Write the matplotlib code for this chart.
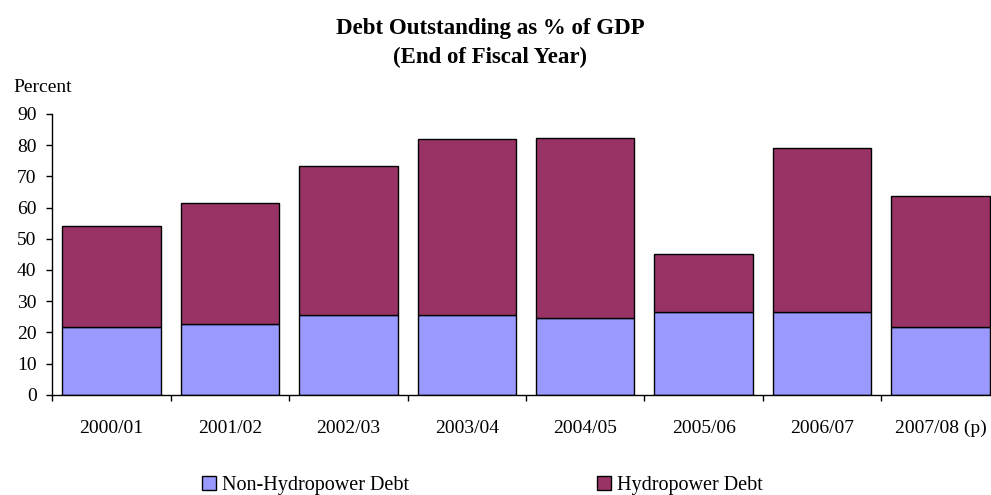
import numpy as np
import matplotlib
matplotlib.use("Agg")
from matplotlib import pyplot as plt
from matplotlib.lines import Line2D

# Debt outstanding, percent of GDP, end of fiscal year
years = ["2000/01", "2001/02", "2002/03", "2003/04", "2004/05",
         "2005/06", "2006/07", "2007/08 (p)"]
non_hydro = [21.7, 22.7, 25.6, 25.6, 24.6, 26.6, 26.6, 21.7]
total = [54.2, 61.4, 73.3, 82.0, 82.4, 45.1, 79.0, 63.7]
hydro = [t - n for t, n in zip(total, non_hydro)]

c_non = "#9999FF"
c_hyd = "#993366"

plt.rcParams['font.family'] = ['Liberation Serif', 'DejaVu Serif']

fig = plt.figure(figsize=(9.91, 4.95), dpi=100)
ax = fig.add_axes([0.05277, 0.2026, 0.9560, 0.5671])

x = np.arange(len(years))
ax.bar(x, non_hydro, width=0.83, color=c_non, edgecolor="black", linewidth=1.0, zorder=2)
ax.bar(x, hydro, width=0.83, bottom=non_hydro, color=c_hyd, edgecolor="black",
       linewidth=1.0, zorder=2)

ax.set_xlim(-0.5, len(years) - 0.5)
ax.set_ylim(0, 90)
ax.set_yticks(np.arange(0, 91, 10))

# tick marks between categories, labels centred under each bar
ax.set_xticks(np.arange(-0.5, len(years), 1.0))
ax.set_xticklabels([])
ax.set_xticks(x, minor=True)
ax.set_xticklabels(years, minor=True)
ax.tick_params(axis="x", which="major", direction="out", length=4.3, width=1.0)
ax.tick_params(axis="x", which="minor", length=0, pad=18, labelsize=14)
ax.tick_params(axis="y", direction="out", length=4.3, width=1.0, pad=7, labelsize=14)

for s in ["top", "right"]:
    ax.spines[s].set_visible(False)
for s in ["left", "bottom"]:
    ax.spines[s].set_linewidth(1.0)
    ax.spines[s].set_color("black")

fig.text(490 / 991, 1 - 34 / 495, "Debt Outstanding as % of GDP", ha="center",
         va="baseline", fontsize=16.5, fontweight="bold")
fig.text(490 / 991, 1 - 63 / 495, "(End of Fiscal Year)", ha="center",
         va="baseline", fontsize=16.5, fontweight="bold")
fig.text(13 / 991, 1 - 92 / 495, "Percent", ha="left", va="baseline", fontsize=14)

# legend entries placed one by one
entries = [("Non-Hydropower Debt", c_non, 199.3), ("Hydropower Debt", c_hyd, 594.0)]
for label, col, px in entries:
    h = Line2D([], [], linestyle="none", marker="s", markersize=10,
               markerfacecolor=col, markeredgecolor="black", markeredgewidth=1.0)
    fig.legend(handles=[h], labels=[label], loc="center left",
               bbox_to_anchor=(px / 991, 1 - 485 / 495), frameon=False,
               fontsize=14.5, handlelength=0.97, handletextpad=0.15,
               borderpad=0, borderaxespad=0)

fig.savefig("out.png", dpi=100)
